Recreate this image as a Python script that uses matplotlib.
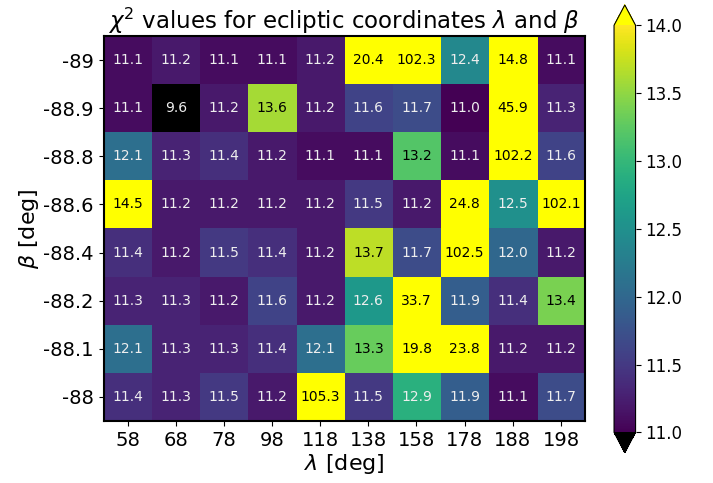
import numpy as np
import matplotlib
matplotlib.use('Agg')
import matplotlib.pyplot as plt

lambdas = [58, 68, 78, 98, 118, 138, 158, 178, 188, 198]
betas = ['-89', '-88.9', '-88.8', '-88.6', '-88.4', '-88.2', '-88.1', '-88']

# chi^2 per (beta, lambda), rows top to bottom
chi2 = np.array([
    [11.1, 11.2, 11.1, 11.1, 11.2, 20.4, 102.3, 12.4, 14.8, 11.1],
    [11.1, 9.6, 11.2, 13.6, 11.2, 11.6, 11.7, 11.0, 45.9, 11.3],
    [12.1, 11.3, 11.4, 11.2, 11.1, 11.1, 13.2, 11.1, 102.2, 11.6],
    [14.5, 11.2, 11.2, 11.2, 11.2, 11.5, 11.2, 24.8, 12.5, 102.1],
    [11.4, 11.2, 11.5, 11.4, 11.2, 13.7, 11.7, 102.5, 12.0, 11.2],
    [11.3, 11.3, 11.2, 11.6, 11.2, 12.6, 33.7, 11.9, 11.4, 13.4],
    [12.1, 11.3, 11.3, 11.4, 12.1, 13.3, 19.8, 23.8, 11.2, 11.2],
    [11.4, 11.3, 11.5, 11.2, 105.3, 11.5, 12.9, 11.9, 11.1, 11.7],
])

cmap = plt.get_cmap('viridis').copy()
cmap.set_under('black')
cmap.set_over('yellow')

fig = plt.figure(figsize=(7.13, 4.83), dpi=100)
ax = fig.add_axes([0.1452, 0.1284, 0.6753, 0.797])
cax = fig.add_axes([0.8612, 0.0627, 0.0302, 0.927])

im = ax.imshow(chi2, cmap=cmap, vmin=11, vmax=14, aspect='auto')

for i in range(chi2.shape[0]):
    for j in range(chi2.shape[1]):
        v = chi2[i, j]
        ax.text(j, i, f'{v:.1f}', ha='center', va='center', fontsize=10,
                color='black' if v >= 13 else '#eeeeee')

ax.set_xticks(range(len(lambdas)))
ax.set_xticklabels([str(l) for l in lambdas], fontsize=14)
ax.set_yticks(range(len(betas)))
ax.set_yticklabels(betas, fontsize=14)
ax.set_xlabel(r'$\lambda$ [deg]', fontsize=16, labelpad=2)
ax.set_ylabel(r'$\beta$ [deg]', fontsize=16, labelpad=2)
ax.set_title(r'$\chi^2$ values for ecliptic coordinates $\lambda$ and $\beta$', fontsize=16.5, pad=5)
for s in ax.spines.values():
    s.set_linewidth(1.5)

cb = fig.colorbar(im, cax=cax, extend='both')
cb.ax.tick_params(labelsize=12)

fig.savefig('out.png', dpi=100)
